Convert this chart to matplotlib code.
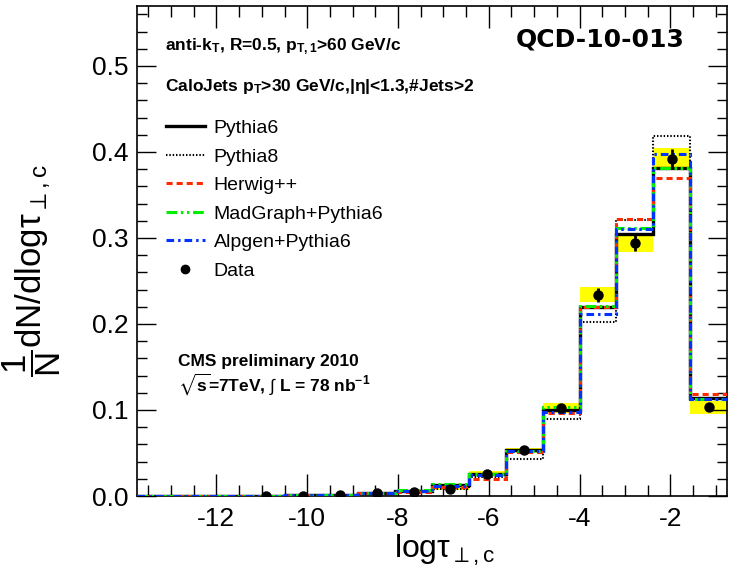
import numpy as np
import matplotlib
matplotlib.use("Agg")
import matplotlib.pyplot as plt
from matplotlib.lines import Line2D
from matplotlib.patches import Rectangle

plt.rcParams['font.family'] = ['Liberation Sans', 'DejaVu Sans']
plt.rcParams['mathtext.fontset'] = 'custom'
plt.rcParams['mathtext.rm'] = 'Liberation Sans'
plt.rcParams['mathtext.it'] = 'Liberation Sans:italic'
plt.rcParams['mathtext.bf'] = 'Liberation Sans:bold'
plt.rcParams['mathtext.sf'] = 'Liberation Sans'
plt.rcParams['mathtext.fallback'] = 'stixsans'

# ---- data ----
bin_lo = -13.75
bin_hi = -0.75
n_bins = 16

pythia6 = [0.0, 0.0, 0.0002, 0.0005, 0.001, 0.0015, 0.003, 0.0055, 0.0125, 0.026, 0.053, 0.0995, 0.220, 0.305, 0.381, 0.114]
pythia8 = [0.0, 0.0, 0.0002, 0.0005, 0.001, 0.0015, 0.0025, 0.0045, 0.0086, 0.022, 0.0427, 0.089, 0.2025, 0.3205, 0.419, 0.113]
herwig = [0.0, 0.0, 0.0002, 0.0005, 0.001, 0.0015, 0.003, 0.005, 0.011, 0.020, 0.051, 0.096, 0.220, 0.3225, 0.370, 0.119]
madgraph = [0.0, 0.0, 0.0002, 0.0005, 0.001, 0.0015, 0.0035, 0.0074, 0.0144, 0.025, 0.052, 0.104, 0.221, 0.312, 0.381, 0.113]
alpgen = [0.0, 0.0, 0.0002, 0.0005, 0.001, 0.0015, 0.003, 0.0055, 0.012, 0.024, 0.052, 0.0977, 0.212, 0.310, 0.398, 0.113]

data = [np.nan, np.nan, np.nan, 0.0003, 0.0005, 0.001, 0.003, 0.005, 0.0086, 0.026, 0.053, 0.102, 0.234, 0.294, 0.392, 0.103]
data_stat = [0, 0, 0, 0.0003, 0.0003, 0.0005, 0.0008, 0.001, 0.0015, 0.002, 0.003, 0.004, 0.008, 0.009, 0.011, 0.004]
data_sys = [0, 0, 0, 0.0003, 0.0003, 0.0005, 0.001, 0.0015, 0.002, 0.003, 0.003, 0.006, 0.0085, 0.010, 0.013, 0.0075]

edges = np.linspace(bin_lo, bin_hi, n_bins + 1)
centers = 0.5 * (edges[:-1] + edges[1:])
width = edges[1] - edges[0]

W, H = 731, 575
fig = plt.figure(figsize=(W / 100, H / 100), dpi=100)
ax = fig.add_axes([137 / W, 1 - 496 / H, (727 - 137) / W, (496 - 5.7) / H])

# yellow systematic boxes
for c, v, s in zip(centers, data, data_sys):
    if np.isfinite(v) and s > 0:
        ax.add_patch(Rectangle((c - width / 2, v - s), width, 2 * s,
                               facecolor='#ffff00', edgecolor='none', zorder=1))

styles = [
    (pythia6, 'Pythia6', dict(color='black', lw=2.4, linestyle='-')),
    (pythia8, 'Pythia8', dict(color='black', lw=1.5, linestyle=(0, (0.7, 0.9)))),
    (herwig, 'Herwig++', dict(color='#ff2a00', lw=2.2, linestyle=(0, (2.0, 1.3)))),
    (madgraph, 'MadGraph+Pythia6', dict(color='#00ee00', lw=2.2, linestyle=(0, (3.5, 1.2, 0.8, 1.2, 0.8, 1.2)))),
    (alpgen, 'Alpgen+Pythia6', dict(color='#0033ff', lw=2.2, linestyle=(0, (2.5, 1.3, 0.8, 1.3)))),
]
handles = []
for vals, lab, st in styles:
    ax.stairs(vals, edges, baseline=None, zorder=3, **st)
    handles.append(Line2D([], [], **st, label=lab))

ax.errorbar(centers, data, yerr=data_stat, fmt='o', color='black', ms=6.5,
            elinewidth=2.0, capsize=0, zorder=5)
handles.append(Line2D([], [], marker='o', color='black', ms=6, linestyle='none', label='Data'))

ax.set_xlim(bin_lo, bin_hi)
ax.set_ylim(0, 0.57)
ax.set_xticks([-12, -10, -8, -6, -4, -2])
ax.set_xticklabels(['-12', '-10', '-8', '-6', '-4', '-2'])
ax.set_xticks(np.arange(-13.5, -0.75, 0.5), minor=True)
ax.set_yticks([0.0, 0.1, 0.2, 0.3, 0.4, 0.5])
ax.set_yticklabels(['0.0', '0.1', '0.2', '0.3', '0.4', '0.5'])
ax.set_yticks(np.arange(0, 0.57, 0.02), minor=True)
ax.tick_params(axis='both', which='both', direction='in', top=True, right=True, width=1.0)
ax.tick_params(axis='x', which='major', length=16, labelsize=19, pad=8)
ax.tick_params(axis='x', which='minor', length=8)
ax.tick_params(axis='y', which='major', length=14, labelsize=19, pad=6)
ax.tick_params(axis='y', which='minor', length=7)
for sp in ax.spines.values():
    sp.set_linewidth(1.2)

leg = ax.legend(handles=handles, loc='upper left', bbox_to_anchor=(0.049, 0.768),
                frameon=False, fontsize=14, handlelength=2.0, handletextpad=0.45,
                labelspacing=0.56, borderaxespad=0, borderpad=0)

fig.text(165 / W, 1 - 50 / H, r'anti-k$_{\mathbf{T}}$, R=0.5, p$_{\mathbf{T,1}}$>60 GeV/c',
         fontsize=12.5, fontweight='bold', ha='left', va='baseline')
fig.text(165 / W, 1 - 91 / H, r'CaloJets p$_{\mathbf{T}}$>30 GeV/c,|η|<1.3,#Jets>2',
         fontsize=12.5, fontweight='bold', ha='left', va='baseline')
fig.text(600 / W, 1 - 40 / H, 'QCD-10-013', fontsize=18, fontweight='bold',
         family='DejaVu Sans', ha='center', va='center')
fig.text(178 / W, 1 - 366 / H, 'CMS preliminary 2010', fontsize=12.5, fontweight='bold',
         ha='left', va='baseline')
fig.text(178 / W, 1 - 391 / H, r'$\sqrt{\mathbf{s}}$=7TeV, $\int$ L = 78 nb$^{\mathbf{-1}}$',
         fontsize=12.5, fontweight='bold', ha='left', va='baseline')

ax.set_xlabel(r'logτ$_{\perp,\mathrm{c}}$', fontsize=23, labelpad=0)
ax.xaxis.set_label_coords(0.522, -0.075)
ax.set_ylabel(r'$\dfrac{1}{\mathrm{N}}$dN/dlogτ$_{\perp,\mathrm{c}}$', fontsize=25)
ax.yaxis.set_label_coords(-0.125, 0.46)

fig.savefig('out.png', dpi=100)
